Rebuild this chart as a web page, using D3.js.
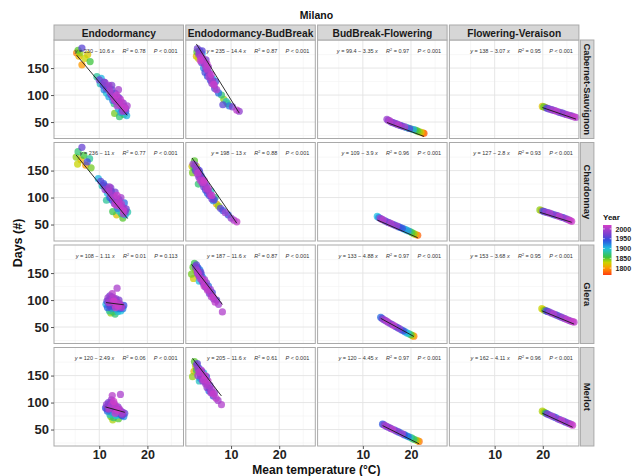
<!DOCTYPE html>
<html><head><meta charset="utf-8">
<script src="https://cdn.jsdelivr.net/npm/d3@7"></script>
<style>body{margin:0;background:#fff;} svg{font-family:"Liberation Sans",Arial,sans-serif;}</style>
</head><body><svg id="chart" width="639" height="476"></svg>
<script>
const title = "Milano";
const phases = ["Endodormancy","Endodormancy-BudBreak","BudBreak-Flowering","Flowering-Veraison"];
const varieties = ["Cabernet-Sauvignon","Chardonnay","Glera","Merlot"];
const xTicks = [10,20];
const yTicks = [50,100,150];
const xMinor = [5,15,25];
const yMinor = [25,75,125,175];
const legendYears = [1800,1850,1900,1950,2000];

// [mean temperature, days, year]
const cabernetEndo = [[5.3,178,1790],[5.8,172,1810],[6.4,187,1960],[6.0,178,1840],[6.4,156,1800],[7.0,168,1830],[8.1,162,1855],[7.6,175,1820],[5.6,183,1850],
[9.5,134,1880],[10.0,128,1970],[10.4,131,1905],[10.2,121,1890],[10.8,118,1950],[11.0,110,1920],[11.2,123,1985],[11.5,104,1895],[11.8,115,1935],[12.0,97,1910],[12.2,108,2000],[12.5,100,1945],[12.6,118,1975],[12.8,90,1925],[13.0,95,1990],[13.1,84,1875],[13.3,103,1960],[13.5,88,1940],[13.7,80,2005],[13.8,96,1980],[14.0,74,1900],[14.0,110,1995],[14.2,86,1955],[14.4,92,2010],[14.5,68,1915],[14.6,79,1965],[14.8,72,1930],[15.0,85,1985],[15.1,64,1860],[15.3,76,2015],[15.5,70,1950],[15.7,62,1905],[14.2,60,1870],[13.2,66,1845],[15.8,80,1998],
[11.5,112,1972],[12.3,104,1988],[12.9,97,2003],[13.4,92,1978],[13.9,88,1992],[14.3,82,2012],[14.7,86,2007],[15.2,78,1996],[12.6,110,1966],[13.6,100,2016],[14.1,95,1958],[15.5,75,1983],[12.0,118,1993],[14.9,70,2001],[13.2,90,2009],[11.0,124,1962]];
const cabernetEndoBB = [[3.0,186,1970],[2.9,180,1850],[3.3,175,1990],[3.5,182,1940],[3.2,168,1830],[3.7,170,2005],[3.9,160,1960],[4.0,176,1900],[4.2,165,1985],[4.3,150,1920],[4.5,158,2000],[4.6,142,1950],[4.8,165,1975],[5.0,148,2010],[5.1,135,1935],[5.3,152,1995],[5.5,140,1965],[5.7,128,1945],[5.9,138,2015],[6.0,122,1980],[6.2,130,1910],[6.5,118,1990],[6.8,125,1955],[7.0,110,2002],[7.4,104,1930],[8.0,100,1870],[8.5,92,1840],[8.3,82,1960],[9.0,88,1890],[9.3,84,1850],[9.6,80,1925],[10.3,78,1975],[11.2,72,2008],[11.7,70,1985],[2.8,172,1815],
[3.4,178,1978],[3.8,172,1995],[4.1,168,2008],[4.4,160,1968],[4.7,152,1988],[5.0,158,2012],[5.2,144,1982],[5.4,134,2003],[5.8,132,1972],[6.1,126,1998],[6.4,120,2016],[4.0,182,1962],[3.6,164,2017],[6.6,112,1958]];
const cabernetBBFlow = [[15.0,55,1990],[15.3,53,1975],[15.6,52,2005],[15.9,50,1960],[16.2,49,1985],[16.5,48,1940],[16.8,47,1995],[17.1,46,1930],[17.4,45,2010],[17.7,44,1950],[18.0,43,1970],[18.3,42,1920],[18.7,41,2000],[19.0,40,1900],[19.4,39,1880],[19.7,38,1955],[20.1,37,1870],[20.5,36,1910],[20.9,35,1860],[21.3,33.5,1850],[21.7,32,1840],[22.1,31,1820],[22.5,29.5,1790],[22.7,29,1775]];
const cabernetFlowVer = [[19.9,79,1820],[20.2,78,1850],[20.5,77,1800],[20.8,76,1960],[21.1,75,1930],[21.4,74,1990],[21.8,73,1945],[22.1,72,2000],[22.5,71,1970],[22.9,70,2010],[23.3,68.5,1955],[23.7,67.5,1985],[24.1,66.5,1940],[24.5,65,1995],[24.9,64,1965],[25.3,63,2005],[25.7,62,1975],[26.1,61,1980],[26.5,59.5,2015],[26.9,58.5,1998]];

const chardonnayEndo = [[6.4,193,1965],[5.6,185,1870],[5.2,175,1840],[5.5,162,1830],[6.2,170,1810],[6.8,178,1855],[7.2,160,1800],[7.5,166,1950],[8.0,172,1880],[8.3,155,1845],
[9.8,135,1905],[10.3,130,1960],[10.6,122,1890],[10.9,126,1940],[11.2,115,1985],[11.5,120,1920],[11.7,108,1900],[12.0,112,2000],[12.2,100,1935],[12.4,118,1975],[12.7,95,1945],[12.9,104,1990],[13.1,90,1915],[13.3,110,1968],[13.5,86,2005],[13.6,98,1955],[13.8,80,1925],[14.0,92,2010],[14.1,75,1895],[14.3,86,1980],[14.5,100,1995],[14.6,70,1870],[14.8,82,1950],[15.0,76,2015],[15.2,90,1930],[15.4,68,1910],[15.6,79,1965],[14.9,62,1850],[13.6,68,1820],[12.8,74,1860],[15.9,73,1885],[11.5,95,1880],
[11.6,114,1972],[12.3,106,1988],[12.8,100,2003],[13.3,94,1978],[13.8,90,1992],[14.2,84,2012],[14.6,88,2007],[15.1,80,1996],[12.5,112,1966],[13.7,104,2016],[14.1,96,1958],[15.4,74,1983],[12.1,120,1993],[15.0,70,2001],[13.2,88,2009],[11.0,122,1962]];
const chardonnayEndoBB = [[2.1,162,1990],[2.3,155,1860],[2.4,168,1850],[2.6,150,1960],[2.8,158,1830],[3.0,144,2000],[3.1,152,1940],[3.3,138,1975],[3.5,146,1920],[3.6,132,2010],[3.8,140,1955],[4.0,127,1985],[4.1,135,1905],[4.3,120,1965],[4.5,128,1995],[4.7,114,1945],[4.9,122,1980],[5.1,108,1930],[5.3,116,2005],[5.5,104,1950],[5.8,112,1890],[6.0,98,1970],[6.3,94,1920],[6.7,100,1875],[7.0,88,1810],[7.4,84,1840],[7.8,80,1960],[8.3,76,1935],[8.8,72,1990],[9.4,68,1945],[10.0,62,1985],[10.6,58,2002],[11.2,55,2012],[1.9,158,1825],[2.0,146,1845],[3.2,125,1870],
[2.5,160,1978],[2.9,152,1995],[3.2,146,2008],[3.5,140,1968],[3.9,134,1988],[4.2,128,2012],[4.6,122,1982],[4.9,116,2003],[5.2,112,1972],[5.6,106,1998],[6.0,104,2016],[3.4,150,1962],[4.4,132,2017],[6.5,96,1958]];
const chardonnayBBFlow = [[13.0,65,1900],[13.3,63,1920],[13.6,61.5,1990],[13.9,60,1965],[14.2,58.5,2005],[14.6,57,1940],[15.0,55,1980],[15.4,53.5,1955],[15.8,52,2000],[16.2,50.5,1970],[16.6,49,1935],[17.0,47.5,1995],[17.4,46,1950],[17.8,44.5,1925],[18.2,43,1945],[18.6,41.5,1910],[19.0,40,1890],[19.4,38.5,1915],[19.8,37,1870],[20.2,35,1850],[20.6,33,1840],[21.0,31.5,1810],[21.4,30,1780]];
const chardonnayFlowVer = [[19.4,77,1840],[19.7,76,1810],[20.0,75,1960],[20.3,74,1930],[20.6,73,1990],[21.0,72,1945],[21.4,71,2000],[21.8,70,1970],[22.2,68.5,1920],[22.6,67.5,1985],[23.0,66.5,1955],[23.4,65,2010],[23.8,64,1975],[24.2,63,1940],[24.6,61.5,1995],[25.0,60,1965],[25.4,58.5,2005],[25.7,57.5,2012],[26.0,56,2016]];

const gleraEndo = [[11.4,92,1905],[11.6,98,1960],[11.7,86,1935],[11.8,104,1990],[12.0,95,2000],[12.1,80,1880],[12.2,108,1970],[12.3,90,1945],[12.5,100,1985],[12.6,85,1920],[12.7,112,2005],[12.8,94,1955],[12.9,78,1850],[13.0,104,1995],[13.1,88,1940],[13.2,97,2010],[13.3,74,1870],[13.4,92,1965],[13.5,102,1980],[13.6,83,1910],[13.7,122,1998],[13.8,95,1950],[13.9,79,1895],[14.0,88,2012],[14.1,100,1975],[14.2,84,1930],[14.3,92,1960],[14.5,80,1900],[14.7,88,1988],[14.9,84,1925],[15.1,90,1945],[12.4,76,1840],
[12.0,100,1972],[12.4,96,1988],[12.8,102,2003],[13.1,92,1978],[13.5,96,1992],[13.9,90,2014],[14.2,94,2007],[14.6,86,1996],[12.6,106,1966],[13.4,86,2016],[12.2,88,1958],[14.4,90,1983],[13.0,98,2018]];
const gleraEndoBB = [[2.1,161,1850],[2.4,168,1860],[2.6,155,1830],[2.8,165,1960],[3.0,150,1990],[3.1,160,1940],[3.3,145,1975],[3.5,156,1920],[3.6,140,2005],[3.8,148,1955],[4.0,135,1985],[4.1,142,1905],[4.3,130,1965],[4.5,138,1995],[4.7,124,1945],[4.9,132,1980],[5.1,118,2010],[5.3,126,1930],[5.5,112,1970],[5.7,120,1990],[5.9,106,2000],[6.1,114,1950],[6.4,102,1985],[6.7,96,2008],[7.0,100,1965],[7.4,92,1995],[8.2,78,2002],[1.8,148,1845],[2.2,140,1825],[3.4,135,1900],
[2.6,162,1978],[2.9,156,1995],[3.2,150,2008],[3.5,146,1968],[3.9,140,1988],[4.2,136,2012],[4.6,128,1982],[5.0,122,2003],[5.4,118,1972],[5.8,112,1998],[6.3,106,2016],[3.7,152,1962],[4.4,126,2017]];
const gleraBBFlow = [[13.7,68,1930],[14.0,66,1960],[14.3,64,1995],[14.6,62.5,1945],[14.9,61,2005],[15.2,59,1975],[15.6,57,1990],[16.0,55,1955],[16.4,53,2010],[16.8,51,1970],[17.2,49,1940],[17.6,47,1985],[18.0,45,1925],[18.4,43,1950],[18.8,41,1910],[19.2,39,1900],[19.6,37.5,1880],[20.0,35.5,1850],[20.3,34,1820],[20.6,33,1790]];
const gleraFlowVer = [[19.8,84,1830],[20.1,82.5,1800],[20.4,81,1850],[20.7,80,1960],[21.0,79,1935],[21.4,77.5,1990],[21.8,76,1950],[22.2,74.5,2005],[22.6,73,1970],[23.0,71.5,1925],[23.4,70,1985],[23.8,68.5,1945],[24.2,67,2000],[24.6,65.5,1965],[25.0,64,2010],[25.4,62.5,1980],[25.8,61,1995],[26.2,60,2015],[26.5,59,2008]];

const merlotEndo = [[11.3,90,1950],[11.5,96,1985],[11.7,84,1930],[11.9,100,1970],[12.0,88,2000],[12.2,78,1890],[12.3,94,1960],[12.5,105,1990],[12.6,82,1915],[12.7,113,2005],[12.9,90,1945],[13.0,72,1870],[13.1,98,1995],[13.2,85,1935],[13.4,94,2010],[13.5,76,1900],[13.6,88,1965],[13.8,80,1925],[13.9,92,1980],[14.0,70,1850],[14.1,86,1955],[14.3,78,1910],[14.4,115,1998],[14.5,84,1975],[14.7,76,1940],[14.9,82,1990],[15.1,74,1920],[15.3,80,1960],[12.8,68,1835],[12.4,74,1845],
[11.8,94,1972],[12.2,90,1988],[12.6,96,2003],[13.0,88,1978],[13.4,90,1992],[13.8,86,2014],[14.2,88,2007],[14.6,80,1996],[12.4,100,1966],[13.3,80,2016],[11.6,88,1958],[14.8,78,1983],[13.0,102,2018]];
const merlotEndoBB = [[2.4,176,1850],[2.6,168,1830],[2.8,160,1860],[3.0,172,1960],[3.1,150,1990],[3.3,164,1940],[3.5,155,1975],[3.6,145,1920],[3.8,160,2005],[4.0,150,1955],[4.1,140,1985],[4.3,155,1905],[4.5,145,1965],[4.7,135,1995],[4.9,148,1945],[5.0,128,1980],[5.2,140,2010],[5.4,122,1930],[5.6,132,1970],[5.8,118,1990],[6.0,125,2000],[6.3,112,1950],[6.6,118,1985],[6.9,108,2008],[7.3,104,1995],[8.0,96,2002],[2.0,148,1840],[2.3,158,1815],[3.4,140,1890],
[2.8,170,1978],[3.1,162,1995],[3.4,156,2008],[3.7,150,1968],[4.0,146,1988],[4.3,142,2012],[4.7,138,1982],[5.1,132,2003],[5.5,126,1972],[5.9,120,1998],[6.3,116,2016],[3.9,158,1962],[4.6,150,2017]];
const merlotBBFlow = [[14.1,60,1940],[14.4,58.5,1975],[14.7,57,2000],[15.0,55.5,1950],[15.4,54,1990],[15.8,52,1965],[16.2,50.5,2010],[16.6,49,1935],[17.0,47,1985],[17.4,45.5,1955],[17.8,44,1920],[18.2,42,1995],[18.6,40.5,1945],[19.0,39,1905],[19.4,37,1930],[19.8,35.5,1890],[20.2,34,1860],[20.6,32,1870],[21.0,30.5,1840],[21.4,29,1810],[21.7,28,1785]];
const merlotFlowVer = [[19.9,84,1835],[20.2,82.5,1810],[20.5,81,1855],[20.8,79.5,1950],[21.1,78,1980],[21.5,76.5,1930],[21.9,75,2000],[22.3,73.5,1960],[22.7,72,1920],[23.1,70,1990],[23.5,68.5,1945],[23.9,67,2010],[24.3,65.5,1970],[24.7,64,1940],[25.1,62.5,1995],[25.5,61,1965],[25.9,59.5,2005],[26.2,58,2015]];

// fitted equations per variety (rows) and phase (columns)
const eqIntercept = [[230,235,99.4,138],[236,198,109,127],[108,187,133,153],[120,205,120,162]];
const eqSlope = [[10.6,14.4,3.35,3.07],[11,13,3.9,2.8],[1.11,11.6,4.88,3.68],[2.49,11.6,4.45,4.11]];
const eqR2 = [["0.78","0.87","0.97","0.95"],["0.77","0.88","0.96","0.93"],["0.01","0.87","0.97","0.95"],["0.06","0.61","0.97","0.96"]];
const eqP = [["< 0.001","< 0.001","< 0.001","< 0.001"],["< 0.001","< 0.001","< 0.001","< 0.001"],["= 0.113","< 0.001","< 0.001","< 0.001"],["< 0.001","< 0.001","< 0.001","< 0.001"]];

const panelData = [
  [cabernetEndo, cabernetEndoBB, cabernetBBFlow, cabernetFlowVer],
  [chardonnayEndo, chardonnayEndoBB, chardonnayBBFlow, chardonnayFlowVer],
  [gleraEndo, gleraEndoBB, gleraBBFlow, gleraFlowVer],
  [merlotEndo, merlotEndoBB, merlotBBFlow, merlotFlowVer]
];

const svg = d3.select("#chart");
const L = 54, T = 40, W = 129.5, H = 98.5, GX = 2.3, GY = 4;
const x = d3.scaleLinear().domain([0.6, 27.5]).range([0, W]);
const y = d3.scaleLinear().domain([19.5, 202]).range([H, 0]);
const yearDomain = [1765, 2020];
const color = d3.scaleLinear()
  .domain([1765, 1800, 1830, 1855, 1900, 1940, 1970, 2020])
  .range(["#ff3c10", "#ff9a00", "#c8d400", "#3cc43c", "#1ec2e2", "#2a52e0", "#7440d0", "#d23ec8"])
  .interpolate(d3.interpolateRgb).clamp(true);

svg.append("text").attr("x", L + (4 * W + 3 * GX) / 2).attr("y", 19)
  .attr("text-anchor", "middle").attr("font-weight", "bold").attr("font-size", 10.5).attr("fill", "#111").text(title);

varieties.forEach((v, ri) => {
  const py = T + ri * (H + GY);
  phases.forEach((p, ci) => {
    const px = L + ci * (W + GX);
    const g = svg.append("g").attr("transform", `translate(${px},${py})`);
    g.append("rect").attr("width", W).attr("height", H).attr("fill", "#fff");
    g.selectAll(".xmin").data(xMinor).join("line").attr("x1", d => x(d)).attr("x2", d => x(d)).attr("y1", 0).attr("y2", H).attr("stroke", "#f2f2f2").attr("stroke-width", 0.6);
    g.selectAll(".ymin").data(yMinor).join("line").attr("y1", d => y(d)).attr("y2", d => y(d)).attr("x1", 0).attr("x2", W).attr("stroke", "#f2f2f2").attr("stroke-width", 0.6);
    g.selectAll(".xmaj").data(xTicks).join("line").attr("x1", d => x(d)).attr("x2", d => x(d)).attr("y1", 0).attr("y2", H).attr("stroke", "#e3e3e3").attr("stroke-width", 0.9);
    g.selectAll(".ymaj").data(yTicks).join("line").attr("y1", d => y(d)).attr("y2", d => y(d)).attr("x1", 0).attr("x2", W).attr("stroke", "#e3e3e3").attr("stroke-width", 0.9);

    const data = panelData[ri][ci].slice().sort((a, b) => a[2] - b[2]);
    g.selectAll("circle").data(data).join("circle")
      .attr("cx", d => x(d[0])).attr("cy", d => y(d[1])).attr("r", 3.6)
      .attr("fill", d => color(d[2])).attr("fill-opacity", 0.75);

    const a = eqIntercept[ri][ci], b = eqSlope[ri][ci];
    const ext = d3.extent(data, d => d[0]);
    g.append("line").attr("x1", x(ext[0])).attr("x2", x(ext[1]))
      .attr("y1", y(a - b * ext[0])).attr("y2", y(a - b * ext[1]))
      .attr("stroke", "#1a1a1a").attr("stroke-width", 0.9);

    const t = g.append("text").attr("x", W - 6).attr("y", 12.5).attr("text-anchor", "end")
      .attr("font-size", 5.5).attr("fill", "#333");
    t.append("tspan").attr("font-style", "italic").text("y");
    t.append("tspan").text(` = ${a} \u2212 ${b} `);
    t.append("tspan").attr("font-style", "italic").text("x");
    t.append("tspan").text("\u2003\u2002");
    t.append("tspan").attr("font-style", "italic").text("R");
    t.append("tspan").attr("font-size", 3.7).attr("dy", -2).text("2");
    t.append("tspan").attr("dy", 2).text(` = ${eqR2[ri][ci]}\u2003\u2002`);
    t.append("tspan").attr("font-style", "italic").text("P");
    t.append("tspan").text(` ${eqP[ri][ci]}`);

    g.append("rect").attr("width", W).attr("height", H).attr("fill", "none").attr("stroke", "#a9a9a9").attr("stroke-width", 1);

    if (ri === 0) {
      svg.append("rect").attr("x", px).attr("y", 25).attr("width", W).attr("height", 15)
        .attr("fill", "#d6d6d6").attr("stroke", "#a9a9a9").attr("stroke-width", 1);
      svg.append("text").attr("x", px + W / 2).attr("y", 36.5).attr("text-anchor", "middle")
        .attr("font-weight", "bold").attr("font-size", 10.2).attr("fill", "#1a1a1a").text(p);
    }
    if (ci === 0) {
      const ax = svg.append("g").attr("transform", `translate(${px},${py})`)
        .call(d3.axisLeft(y).tickValues(yTicks).tickSize(3).tickPadding(2));
      ax.select(".domain").remove();
      ax.selectAll("line").attr("stroke", "#555");
      ax.selectAll("text").attr("font-family", "Liberation Sans, Arial, sans-serif").attr("font-weight", "bold").attr("font-size", 13).attr("fill", "#222");
    }
    if (ri === varieties.length - 1) {
      const ax = svg.append("g").attr("transform", `translate(${px},${py + H})`)
        .call(d3.axisBottom(x).tickValues(xTicks).tickSize(3).tickPadding(1));
      ax.select(".domain").remove();
      ax.selectAll("line").attr("stroke", "#555");
      ax.selectAll("text").attr("font-family", "Liberation Sans, Arial, sans-serif").attr("font-weight", "bold").attr("font-size", 12.5).attr("fill", "#222");
    }
  });
  // row strip
  const sx = L + 4 * W + 3 * GX + 1.5;
  svg.append("rect").attr("x", sx).attr("y", py).attr("width", 13.5).attr("height", H)
    .attr("fill", "#d6d6d6").attr("stroke", "#a9a9a9").attr("stroke-width", 1);
  svg.append("text").attr("transform", `translate(${sx + 3.2},${py + H / 2}) rotate(90)`)
    .attr("text-anchor", "middle").attr("font-weight", "bold").attr("font-size", 9.4)
    .attr("fill", "#1a1a1a").text(v);
});

// axis titles
svg.append("text").attr("x", L + (4 * W + 3 * GX) / 2).attr("y", 473.5).attr("text-anchor", "middle")
  .attr("font-weight", "bold").attr("font-size", 12).attr("fill", "#111").text("Mean temperature (\u00B0C)");
svg.append("text").attr("transform", `translate(22,${T + (4 * H + 3 * GY) / 2}) rotate(-90)`)
  .attr("text-anchor", "middle").attr("font-weight", "bold").attr("font-size", 12.5).attr("fill", "#111").text("Days (#)");

// legend
const lx = 603, ly0 = 225, ly1 = 275, lw = 8.5;
const ly = d3.scaleLinear().domain(yearDomain).range([ly1, ly0]);
const defs = svg.append("defs");
const grad = defs.append("linearGradient").attr("id", "yeargrad").attr("x1", 0).attr("y1", 1).attr("x2", 0).attr("y2", 0);
d3.range(0, 1.0001, 0.05).forEach(f => {
  grad.append("stop").attr("offset", f).attr("stop-color", color(yearDomain[0] + f * (yearDomain[1] - yearDomain[0])));
});
svg.append("text").attr("x", lx).attr("y", 220).attr("font-weight", "bold").attr("font-size", 8).attr("fill", "#111").text("Year");
svg.append("rect").attr("x", lx).attr("y", ly0).attr("width", lw).attr("height", ly1 - ly0).attr("fill", "url(#yeargrad)");
const lg = svg.append("g").attr("transform", `translate(${lx + lw},0)`)
  .call(d3.axisRight(ly).tickValues(legendYears).tickFormat(d3.format("d")).tickSize(0).tickPadding(4));
lg.select(".domain").remove();
lg.selectAll("text").attr("font-family", "Liberation Sans, Arial, sans-serif").attr("font-weight", "bold").attr("font-size", 7).attr("fill", "#222");
svg.selectAll(".lt").data(legendYears).join("line")
  .attr("x1", lx).attr("x2", lx + 1.8).attr("y1", d => ly(d)).attr("y2", d => ly(d)).attr("stroke", "#fff").attr("stroke-width", 0.6);
svg.selectAll(".lt2").data(legendYears).join("line")
  .attr("x1", lx + lw - 1.8).attr("x2", lx + lw).attr("y1", d => ly(d)).attr("y2", d => ly(d)).attr("stroke", "#fff").attr("stroke-width", 0.6);
</script>
</body></html>
